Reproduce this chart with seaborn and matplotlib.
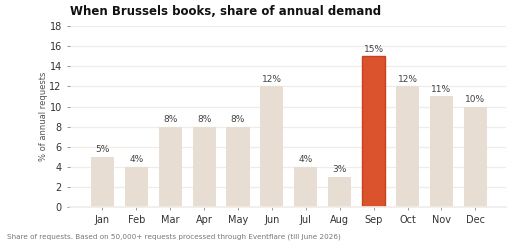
import numpy as np
import pandas as pd
import seaborn as sns
import matplotlib.pyplot as plt

# Data
months = ["Jan", "Feb", "Mar", "Apr", "May", "Jun", "Jul", "Aug", "Sep", "Oct", "Nov", "Dec"]
share = [5, 4, 8, 8, 8, 12, 4, 3, 15, 12, 11, 10]
peak_month = "Sep"

data = pd.DataFrame({"month": months, "share": share})
palette = {m: ("#DA532D" if m == peak_month else "#E7DDD3") for m in months}

sns.set_theme(style="white")
plt.rcParams['font.family'] = ['DejaVu Sans']

fig, ax = plt.subplots(figsize=(5.12, 2.48), dpi=100)
fig.subplots_adjust(left=0.137, right=0.988, top=0.895, bottom=0.165)

sns.barplot(data=data, x="month", y="share", hue="month", palette=palette,
            order=months, width=0.68, saturation=1, legend=False, ax=ax, zorder=2)

# edge only on the highlighted bar
for patch, m in zip(ax.patches, months):
    if m == peak_month:
        patch.set_edgecolor("#C8421E")
        patch.set_linewidth(1.0)
    else:
        patch.set_edgecolor("none")

for i, v in enumerate(share):
    ax.text(i, v + 0.25, f"{v}%", ha="center", va="bottom", fontsize=6.5, color="#444444")

ax.set_ylim(0, 18)
ax.set_yticks(range(0, 19, 2))
ax.set_xlim(-0.95, 11.9)
ax.yaxis.grid(True, color="#F1ECE7", linewidth=0.9, zorder=0)
ax.set_axisbelow(True)
sns.despine(ax=ax, left=True, top=True, right=True)
ax.spines["bottom"].set_color("#F1ECE7")

ax.tick_params(axis="both", labelsize=7, colors="#333333", length=2.5, width=0.6,
               left=True, bottom=True)
ax.tick_params(axis="both", color="#888888")
ax.set_xlabel("")
ax.set_ylabel("% of annual requests", fontsize=6, color="#555555", labelpad=1)

ax.set_title("When Brussels books, share of annual demand", loc="left",
             fontsize=8.5, fontweight="bold", color="#111111", pad=8)

fig.text(0.014, 0.045, "Share of requests. Based on 50,000+ requests processed through Eventflare (till June 2026)",
         fontsize=5.2, color="#777777", ha="left", va="center")

plt.savefig("out.png", dpi=100)
